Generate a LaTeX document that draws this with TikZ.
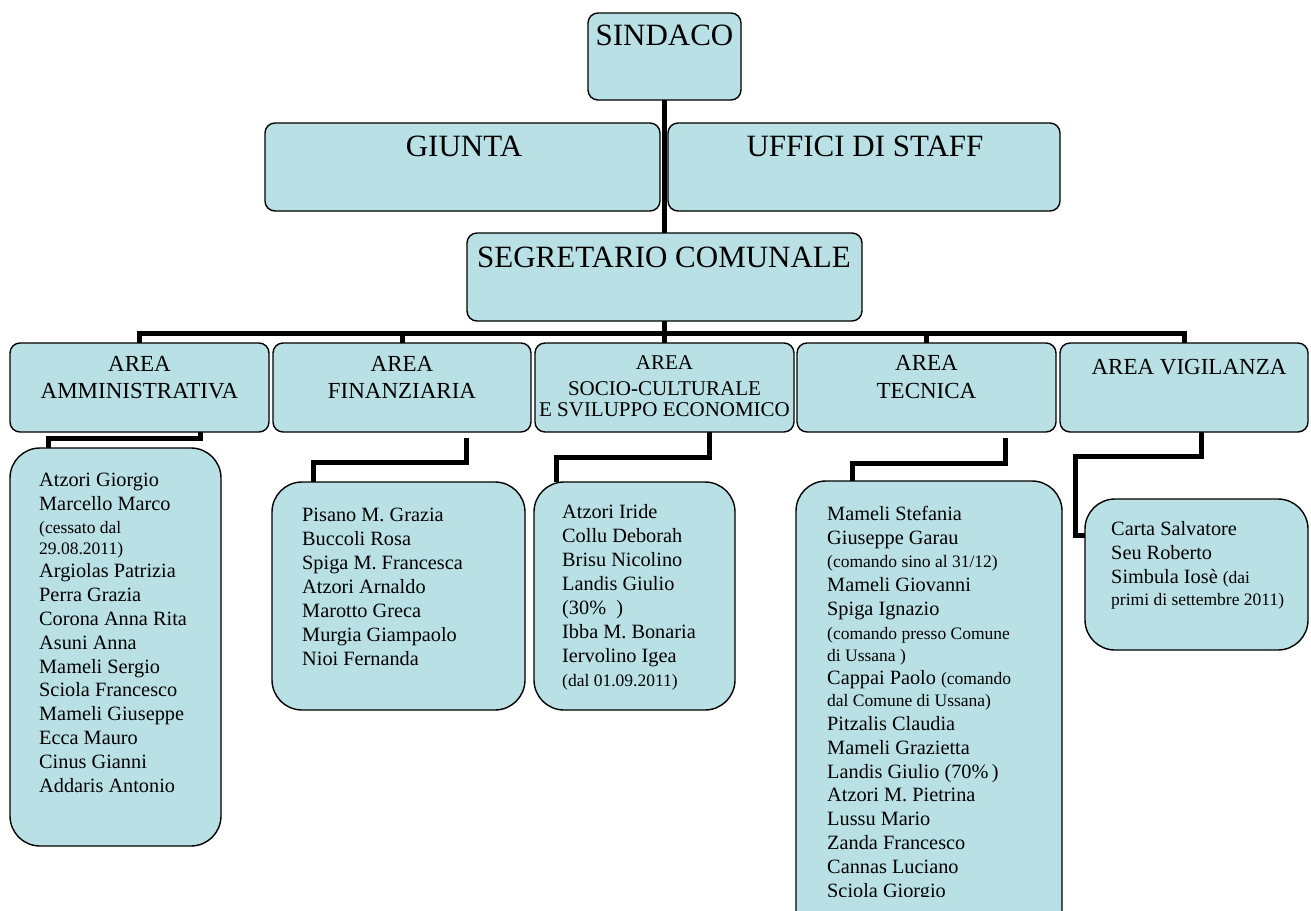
\documentclass[tikz,border=0pt]{standalone}
\usepackage{fontspec}
\setmainfont{Liberation Serif}
\definecolor{boxfill}{RGB}{185,224,228}
\newcommand\smtxt[1]{{\fontsize{17.5}{21}\selectfont #1}}
\begin{document}
\begin{tikzpicture}[x=1pt,y=-1pt,
  box/.style 2 args={draw=black, fill=boxfill, line width=1.4pt, rounded corners=10pt, anchor=north west, inner sep=0pt, outer sep=0pt, minimum width=#1, minimum height=#2},
  dbox/.style 2 args={box={#1}{#2}, rounded corners=30pt},
  conn/.style={line width=5pt, line join=miter},
  ttl/.style={anchor=base, inner sep=0pt, font=\fontsize{31}{36}\selectfont},
  atl/.style={anchor=base, inner sep=0pt, font=\fontsize{23}{27}\selectfont},
  stl/.style={anchor=base, inner sep=0pt, font=\fontsize{21}{24}\selectfont},
  lst/.style={anchor=north west, inner sep=0pt, align=left, font=\fontsize{20.3}{23.8}\selectfont},
  lst24/.style={lst, font=\fontsize{20.3}{24}\selectfont},
]
\fill[white] (0,0) rectangle (1311,910);
\useasboundingbox (0,0) rectangle (1311,910);

% top level boxes
\node[box={153pt}{87pt}] (sind) at (588,13) {};
\node[box={395pt}{88pt}] (giunta) at (265,123) {};
\node[box={392pt}{88pt}] (uffici) at (668,123) {};
\node[box={395pt}{88pt}] (seg) at (467,233) {};

% area boxes
\node[box={259pt}{89pt}] (amm) at (10,343) {};
\node[box={258pt}{89pt}] (fin) at (273,343) {};
\node[box={259pt}{89pt}] (socio) at (535,343) {};
\node[box={259pt}{89pt}] (tec) at (797,343) {};
\node[box={248pt}{89pt}] (vig) at (1060,343) {};

% detail boxes
\node[dbox={211pt}{398pt}] (ammd) at (10,448) {};
\node[dbox={253pt}{228pt}] (find) at (272,482) {};
\node[dbox={201pt}{228pt}] (sociod) at (534,482) {};
\node[dbox={266pt}{460pt}] (tecd) at (796,481) {};
\node[dbox={223pt}{151pt}] (vigd) at (1085,499) {};

% connectors
\draw[conn] (sind.south) -- (seg.north);
\draw[conn] (seg.south) -- ++(0,12) -| (amm.north);
\draw[conn] (seg.south) -- ++(0,12) -| (fin.north);
\draw[conn] (seg.south) -- (socio.north);
\draw[conn] (seg.south) -- ++(0,12) -| (tec.north);
\draw[conn] (seg.south) -- ++(0,12) -| (vig.north);

\draw[conn] ([xshift=60.5pt]amm.south) -- ++(0,6) -| ([xshift=-67.5pt]ammd.north);
\draw[conn] ([xshift=64pt,yshift=-6pt]fin.south) -- ++(0,24) -| ([xshift=-85.5pt]find.north);
\draw[conn] ([xshift=44.5pt]socio.south) -- ++(0,25) -| ([xshift=-78.5pt]sociod.north);
\draw[conn] ([xshift=78.5pt,yshift=-6pt]tec.south) -- ++(0,25) -| ([xshift=-77pt]tecd.north);
\draw[conn] ([xshift=17.5pt]vig.south) -- ++(0,24) -| ([xshift=-10pt,yshift=39pt]vigd.west) -- ([yshift=39pt]vigd.west);

% titles
\node[ttl] (sindt) at (664.5,45) {SINDACO};
\node[ttl] (giuntat) at (464,156) {GIUNTA};
\node[ttl] (ufficit) at (865,156) {UFFICI DI STAFF};
\node[ttl] (segt) at (664,267) {SEGRETARIO COMUNALE};

\node[atl] (ammt1) at (139.5,371) {AREA};
\node[atl] (ammt2) at (139.5,398) {AMMINISTRATIVA};
\node[atl] (fint1) at (402,371) {AREA};
\node[atl] (fint2) at (402,398) {FINANZIARIA};
\node[stl] (sociot1) at (664.5,369) {AREA};
\node[stl] (sociot2) at (664.5,395) {SOCIO-CULTURALE};
\node[stl] (sociot3) at (664.5,416) {E SVILUPPO ECONOMICO};
\node[atl] (tect1) at (926.5,370) {AREA};
\node[atl] (tect2) at (926.5,398) {TECNICA};
\node[atl] (vigt) at (1189,374) {AREA VIGILANZA};

% lists
\node[lst] (ammlist) at (39,470) {\rule{0pt}{16pt}Atzori Giorgio\\
Marcello Marco\\
\smtxt{(cessato dal}\\[-3.5pt]
\smtxt{29.08.2011)}\\
Argiolas Patrizia\\
Perra Grazia\\
Corona Anna Rita\\
Asuni Anna\\
Mameli Sergio\\
Sciola Francesco\\
Mameli Giuseppe\\
Ecca Mauro\\
Cinus Gianni\\
Addaris Antonio};

\node[lst24] (finlist) at (302,505) {\rule{0pt}{16pt}Pisano M. Grazia\\
Buccoli Rosa\\
Spiga M. Francesca\\
Atzori Arnaldo\\
Marotto Greca\\
Murgia Giampaolo\\
Nioi Fernanda};

\node[lst24] (sociolist) at (562,502) {\rule{0pt}{16pt}Atzori Iride\\
Collu Deborah\\
Brisu Nicolino\\
Landis Giulio\\
(30\%~~)\\
Ibba M. Bonaria\\
Iervolino Igea\\
\smtxt{(dal 01.09.2011)}};

\begin{scope}
\clip (790,470) rectangle (1070,896);
\node[lst] (teclist) at (827,504) {\rule{0pt}{16pt}Mameli Stefania\\
Giuseppe Garau\\
\smtxt{(comando sino al 31/12)}\\
Mameli Giovanni\\
Spiga Ignazio\\
\smtxt{(comando presso Comune}\\[-2pt]
\smtxt{di Ussana )}\\
Cappai Paolo \smtxt{(comando}\\[-2pt]
\smtxt{dal Comune di Ussana)}\\
Pitzalis Claudia\\
Mameli Grazietta\\
Landis Giulio (70\%\,)\\
Atzori M. Pietrina\\
Lussu Mario\\
Zanda Francesco\\
Cannas Luciano\\
Sciola Giorgio};
\end{scope}

\node[lst24] (viglist) at (1111,519) {\rule{0pt}{16pt}Carta Salvatore\\
Seu Roberto\\
Simbula Iosè \smtxt{(dai}\\[-2pt]
\smtxt{primi di settembre 2011)}};
\end{tikzpicture}
\end{document}
